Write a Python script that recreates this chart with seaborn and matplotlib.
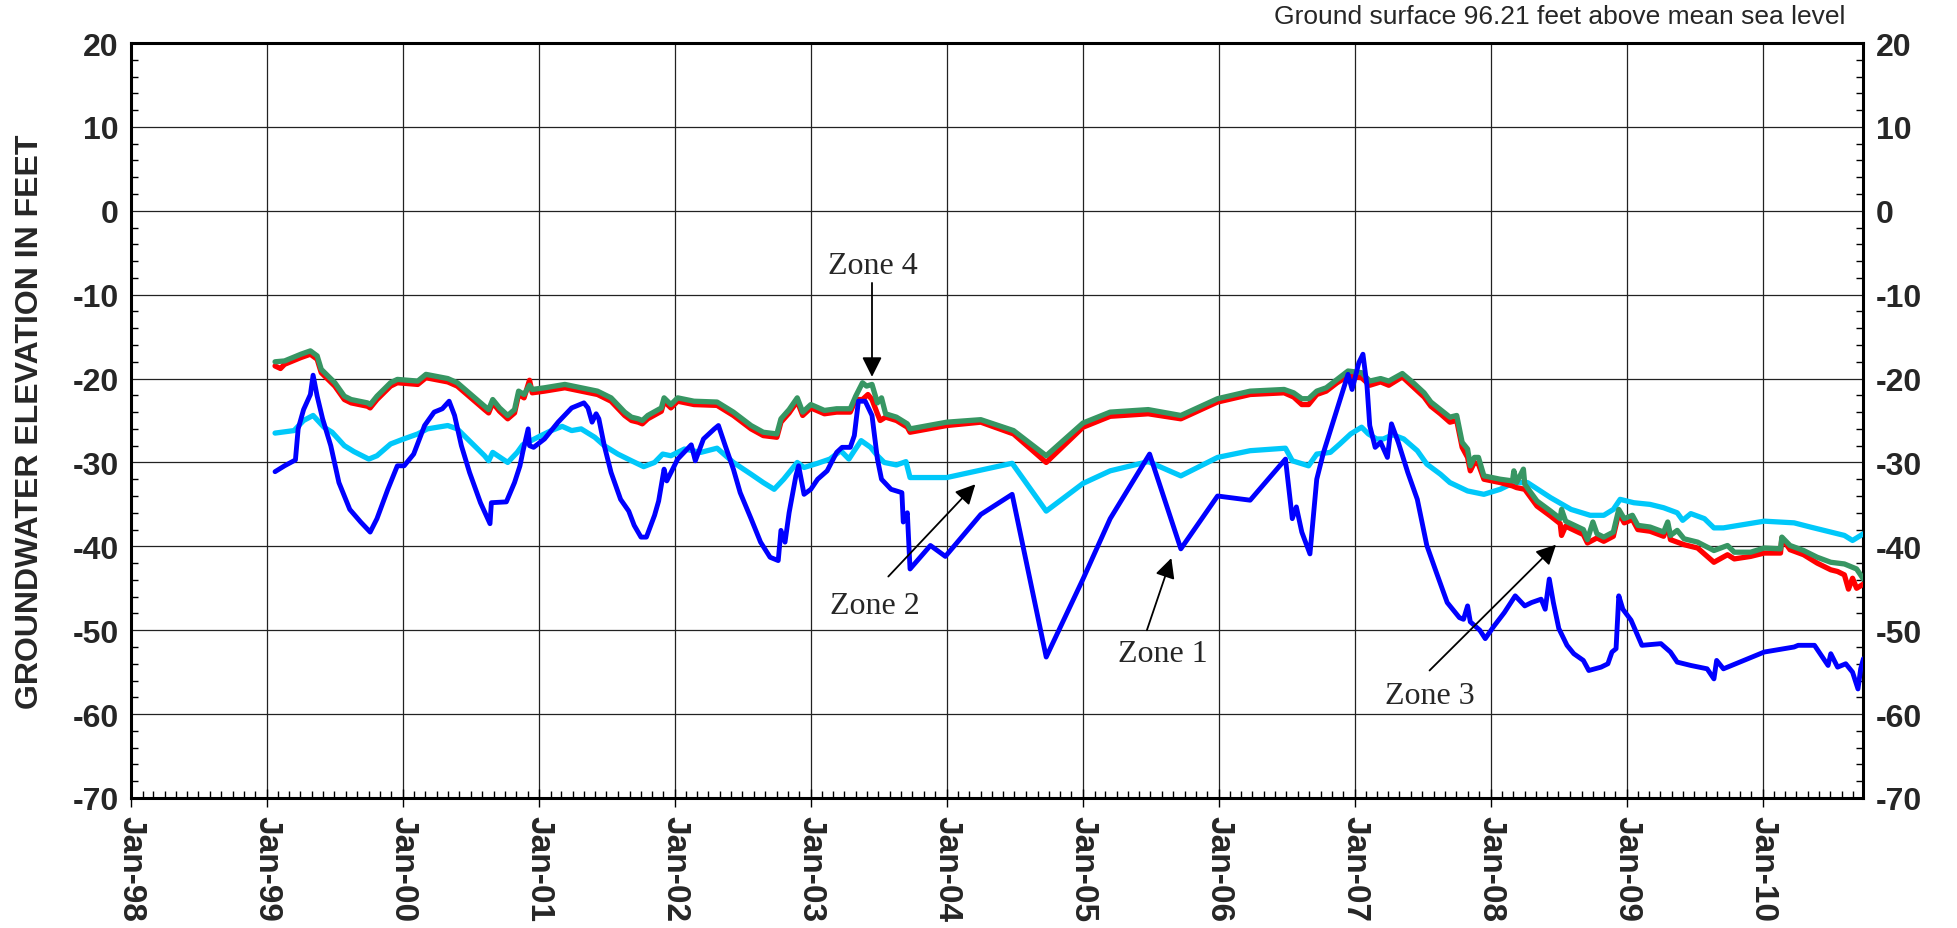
import numpy as np
import pandas as pd
import matplotlib
matplotlib.use("Agg")
import matplotlib.pyplot as plt
import matplotlib.dates as mdates
from matplotlib.ticker import MultipleLocator
import seaborn as sns

# ---------------- data (decimal year, elevation ft) ----------------
zone1_t = [1999.06, 1999.13, 1999.21, 1999.23, 1999.27, 1999.32, 1999.34, 1999.37, 1999.41, 1999.47,
           1999.53, 1999.61, 1999.69, 1999.76, 1999.81, 1999.89, 1999.96, 2000.01, 2000.08, 2000.16,
           2000.23, 2000.29, 2000.34, 2000.38, 2000.43, 2000.49, 2000.57, 2000.64, 2000.65, 2000.76,
           2000.82, 2000.86, 2000.88, 2000.92, 2000.93, 2000.96, 2001.04, 2001.14, 2001.24, 2001.33,
           2001.36, 2001.39, 2001.42, 2001.44, 2001.48, 2001.53, 2001.60, 2001.66, 2001.70, 2001.75,
           2001.79, 2001.85, 2001.88, 2001.92, 2001.94, 2002.02, 2002.12, 2002.15, 2002.21, 2002.29,
           2002.32, 2002.37, 2002.43, 2002.48, 2002.56, 2002.63, 2002.70, 2002.76, 2002.78, 2002.81,
           2002.84, 2002.89, 2002.91, 2002.95, 2003.00, 2003.05, 2003.12, 2003.19, 2003.23, 2003.29,
           2003.32, 2003.35, 2003.40, 2003.45, 2003.49, 2003.52, 2003.59, 2003.67, 2003.68, 2003.71,
           2003.73, 2003.88, 2003.99, 2004.25, 2004.48, 2004.73, 2005.00, 2005.20, 2005.49, 2005.72,
           2005.99, 2006.23, 2006.49, 2006.54, 2006.57, 2006.61, 2006.67, 2006.72, 2006.77, 2006.84,
           2006.92, 2006.95, 2006.98, 2007.03, 2007.06, 2007.09, 2007.11, 2007.15, 2007.19, 2007.24,
           2007.27, 2007.32, 2007.39, 2007.46, 2007.53, 2007.60, 2007.68, 2007.74, 2007.77, 2007.80,
           2007.83, 2007.85, 2007.92, 2007.96, 2008.02, 2008.10, 2008.18, 2008.25, 2008.30, 2008.37,
           2008.40, 2008.43, 2008.46, 2008.50, 2008.56, 2008.61, 2008.68, 2008.72, 2008.81, 2008.86,
           2008.89, 2008.92, 2008.94, 2008.97, 2009.03, 2009.11, 2009.25, 2009.32, 2009.37, 2009.47,
           2009.59, 2009.64, 2009.66, 2009.71, 2010.01, 2010.23, 2010.26, 2010.38, 2010.43, 2010.48,
           2010.50, 2010.55, 2010.61, 2010.66, 2010.70, 2010.72, 2010.74]
zone1_v = [-31.1, -30.4, -29.7, -26.0, -23.7, -21.9, -19.6, -22.1, -24.8, -28.0,
           -32.4, -35.6, -37.1, -38.3, -36.7, -33.2, -30.4, -30.4, -29.0, -25.6,
           -24.0, -23.6, -22.7, -24.4, -28.0, -31.2, -34.8, -37.3, -34.8, -34.7,
           -32.4, -30.4, -28.8, -26.0, -28.0, -28.2, -27.2, -25.2, -23.5, -22.9,
           -23.5, -25.2, -24.2, -24.8, -28.0, -31.2, -34.4, -35.8, -37.5, -38.9,
           -38.9, -36.3, -34.6, -30.8, -32.2, -29.6, -27.9, -29.8, -27.2, -26.0,
           -25.6, -28.0, -30.8, -33.6, -36.7, -39.5, -41.3, -41.7, -38.1, -39.5,
           -36.0, -31.6, -30.4, -33.8, -33.2, -32.0, -31.0, -28.8, -28.2, -28.2,
           -26.8, -22.7, -22.7, -24.4, -29.6, -32.0, -33.2, -33.6, -37.1, -36.0,
           -42.7, -39.9, -41.2, -36.2, -33.8, -53.2, -43.9, -36.7, -29.0, -40.3,
           -34.0, -34.5, -29.6, -36.7, -35.3, -38.3, -40.9, -32.0, -28.8, -25.2,
           -21.1, -19.5, -21.3, -18.1, -17.1, -20.9, -25.6, -28.2, -27.6, -29.4,
           -25.4, -27.6, -31.2, -34.4, -39.9, -43.1, -46.7, -47.9, -48.5, -48.7,
           -47.1, -49.0, -50.0, -51.0, -49.6, -47.9, -45.9, -47.1, -46.7, -46.3,
           -47.5, -43.9, -46.7, -49.8, -51.8, -52.8, -53.6, -54.8, -54.4, -54.0,
           -52.6, -52.2, -45.9, -47.5, -48.8, -51.8, -51.6, -52.6, -53.8, -54.2,
           -54.6, -55.8, -53.6, -54.6, -52.6, -52.0, -51.8, -51.8, -53.0, -54.2,
           -52.8, -54.4, -54.0, -55.0, -57.0, -54.6, -53.4]

zone2_t = [1999.06, 1999.20, 1999.27, 1999.34, 1999.42, 1999.48, 1999.57, 1999.64, 1999.75, 1999.81,
           1999.91, 1999.99, 2000.11, 2000.18, 2000.33, 2000.40, 2000.50, 2000.60, 2000.63, 2000.66,
           2000.77, 2000.84, 2000.88, 2000.99, 2001.09, 2001.17, 2001.24, 2001.31, 2001.41, 2001.48,
           2001.58, 2001.68, 2001.77, 2001.85, 2001.91, 2001.97, 2002.07, 2002.19, 2002.31, 2002.43,
           2002.56, 2002.65, 2002.73, 2002.80, 2002.90, 2002.95, 2003.05, 2003.14, 2003.22, 2003.28,
           2003.32, 2003.37, 2003.44, 2003.49, 2003.54, 2003.63, 2003.70, 2003.73, 2004.00, 2004.48,
           2004.73, 2005.00, 2005.20, 2005.48, 2005.72, 2005.99, 2006.23, 2006.49, 2006.54, 2006.66,
           2006.72, 2006.82, 2006.89, 2006.97, 2007.05, 2007.10, 2007.16, 2007.21, 2007.28, 2007.36,
           2007.46, 2007.53, 2007.63, 2007.70, 2007.83, 2007.95, 2008.07, 2008.17, 2008.27, 2008.44,
           2008.59, 2008.73, 2008.83, 2008.90, 2008.95, 2009.05, 2009.17, 2009.27, 2009.37, 2009.41,
           2009.47, 2009.57, 2009.64, 2009.71, 2010.01, 2010.23, 2010.35, 2010.50, 2010.60, 2010.66,
           2010.74]
zone2_v = [-26.5, -26.2, -25.0, -24.4, -25.8, -26.4, -28.0, -28.7, -29.6, -29.2,
           -27.8, -27.3, -26.6, -26.0, -25.6, -26.0, -27.6, -29.2, -29.8, -28.8,
           -30.0, -28.8, -27.9, -27.0, -26.2, -25.7, -26.2, -26.0, -27.0, -28.0,
           -29.0, -29.8, -30.5, -30.0, -29.0, -29.2, -28.4, -28.8, -28.3, -30.0,
           -31.4, -32.4, -33.2, -32.0, -30.0, -30.6, -30.1, -29.6, -28.6, -29.6,
           -28.6, -27.4, -28.2, -29.2, -30.0, -30.3, -29.9, -31.8, -31.8, -30.1,
           -35.8, -32.5, -31.0, -29.9, -31.6, -29.4, -28.6, -28.3, -29.8, -30.4,
           -29.0, -28.8, -27.8, -26.6, -25.8, -26.6, -27.2, -27.2, -26.7, -27.2,
           -28.6, -30.2, -31.4, -32.4, -33.4, -33.8, -33.2, -32.4, -32.4, -34.2,
           -35.6, -36.3, -36.3, -35.6, -34.4, -34.8, -35.0, -35.4, -36.0, -36.9,
           -36.1, -36.7, -37.8, -37.8, -37.0, -37.2, -37.7, -38.3, -38.7, -39.3,
           -38.5]

zone3_t = [1999.06, 1999.10, 1999.13, 1999.25, 1999.32, 1999.37, 1999.40, 1999.50, 1999.57, 1999.62,
           1999.74, 1999.76, 1999.81, 1999.91, 1999.96, 2000.11, 2000.17, 2000.33, 2000.40, 2000.50,
           2000.60, 2000.63, 2000.66, 2000.71, 2000.77, 2000.82, 2000.85, 2000.89, 2000.93, 2000.95,
           2001.04, 2001.19, 2001.31, 2001.43, 2001.53, 2001.63, 2001.68, 2001.73, 2001.76, 2001.80,
           2001.90, 2001.92, 2001.97, 2002.02, 2002.14, 2002.31, 2002.43, 2002.56, 2002.65, 2002.75,
           2002.78, 2002.84, 2002.90, 2002.94, 2003.00, 2003.10, 2003.19, 2003.29, 2003.33, 2003.38,
           2003.42, 2003.45, 2003.49, 2003.51, 2003.55, 2003.63, 2003.71, 2003.73, 2004.00, 2004.25,
           2004.49, 2004.73, 2005.00, 2005.20, 2005.48, 2005.72, 2005.99, 2006.23, 2006.48, 2006.55,
           2006.61, 2006.66, 2006.72, 2006.79, 2006.87, 2006.95, 2007.05, 2007.11, 2007.19, 2007.25,
           2007.35, 2007.43, 2007.51, 2007.56, 2007.63, 2007.70, 2007.75, 2007.79, 2007.83, 2007.85,
           2007.88, 2007.91, 2007.95, 2008.07, 2008.16, 2008.19, 2008.25, 2008.34, 2008.44, 2008.51,
           2008.52, 2008.55, 2008.68, 2008.71, 2008.78, 2008.83, 2008.90, 2008.94, 2008.98, 2009.04,
           2009.08, 2009.17, 2009.27, 2009.30, 2009.32, 2009.42, 2009.52, 2009.64, 2009.74, 2009.79,
           2009.91, 2010.01, 2010.13, 2010.14, 2010.20, 2010.30, 2010.40, 2010.50, 2010.55, 2010.60,
           2010.63, 2010.66, 2010.69, 2010.74]
zone3_v = [-18.5, -18.8, -18.3, -17.5, -17.1, -17.7, -19.3, -20.9, -22.5, -22.9,
           -23.3, -23.5, -22.5, -20.9, -20.5, -20.7, -19.9, -20.4, -20.9, -22.3,
           -23.7, -24.1, -22.9, -23.9, -24.8, -24.1, -21.9, -22.3, -20.2, -21.7,
           -21.5, -21.1, -21.5, -21.9, -22.7, -24.4, -25.0, -25.2, -25.4, -24.8,
           -23.9, -22.7, -23.5, -22.7, -23.1, -23.2, -24.4, -26.0, -26.8, -27.0,
           -25.2, -24.1, -22.7, -24.4, -23.5, -24.2, -24.0, -24.0, -22.5, -22.5,
           -21.9, -22.5, -24.2, -25.0, -24.6, -25.0, -25.8, -26.4, -25.6, -25.2,
           -26.6, -30.0, -25.8, -24.5, -24.2, -24.8, -22.8, -21.9, -21.7, -22.2,
           -23.1, -23.1, -21.9, -21.5, -20.5, -19.7, -19.9, -20.8, -20.4, -20.8,
           -19.8, -21.0, -22.2, -23.3, -24.2, -25.2, -25.0, -28.2, -29.4, -31.0,
           -30.0, -30.2, -32.0, -32.4, -32.8, -33.0, -33.2, -35.2, -36.4, -37.3,
           -38.7, -37.6, -38.6, -39.6, -39.0, -39.4, -38.8, -36.0, -37.2, -36.8,
           -38.0, -38.2, -38.8, -37.4, -39.2, -39.8, -40.2, -41.9, -41.0, -41.5,
           -41.2, -40.8, -40.8, -39.0, -40.4, -41.0, -42.0, -42.8, -43.0, -43.4,
           -45.1, -43.8, -45.0, -44.5]

zone4_t = [1999.06, 1999.13, 1999.25, 1999.32, 1999.37, 1999.40, 1999.50, 1999.57, 1999.62, 1999.74,
           1999.76, 1999.81, 1999.91, 1999.96, 2000.11, 2000.17, 2000.33, 2000.40, 2000.50, 2000.60,
           2000.63, 2000.66, 2000.71, 2000.77, 2000.82, 2000.85, 2000.89, 2000.93, 2000.95, 2001.04,
           2001.19, 2001.31, 2001.43, 2001.53, 2001.63, 2001.68, 2001.73, 2001.76, 2001.80, 2001.90,
           2001.92, 2001.97, 2002.02, 2002.14, 2002.31, 2002.43, 2002.56, 2002.65, 2002.75, 2002.78,
           2002.84, 2002.90, 2002.94, 2003.00, 2003.10, 2003.19, 2003.29, 2003.33, 2003.38, 2003.41,
           2003.45, 2003.49, 2003.52, 2003.55, 2003.63, 2003.71, 2003.73, 2004.00, 2004.25, 2004.49,
           2004.73, 2005.00, 2005.20, 2005.48, 2005.72, 2005.99, 2006.23, 2006.48, 2006.55, 2006.61,
           2006.66, 2006.72, 2006.79, 2006.87, 2006.95, 2007.05, 2007.11, 2007.19, 2007.25, 2007.35,
           2007.43, 2007.51, 2007.56, 2007.63, 2007.70, 2007.75, 2007.79, 2007.83, 2007.85, 2007.88,
           2007.91, 2007.95, 2008.07, 2008.16, 2008.17, 2008.19, 2008.24, 2008.25, 2008.34, 2008.44,
           2008.51, 2008.52, 2008.55, 2008.68, 2008.71, 2008.75, 2008.78, 2008.83, 2008.90, 2008.94,
           2008.98, 2009.04, 2009.08, 2009.17, 2009.27, 2009.30, 2009.32, 2009.37, 2009.42, 2009.52,
           2009.64, 2009.74, 2009.79, 2009.91, 2010.01, 2010.13, 2010.14, 2010.20, 2010.30, 2010.40,
           2010.50, 2010.60, 2010.69, 2010.74]
zone4_v = [-18.0, -17.9, -17.1, -16.7, -17.3, -18.9, -20.5, -22.1, -22.5, -22.9,
           -23.1, -22.1, -20.5, -20.1, -20.3, -19.5, -20.0, -20.5, -21.9, -23.3,
           -23.7, -22.5, -23.5, -24.4, -23.7, -21.5, -21.9, -20.8, -21.3, -21.1,
           -20.7, -21.1, -21.5, -22.3, -24.0, -24.6, -24.8, -25.0, -24.4, -23.5,
           -22.3, -23.1, -22.3, -22.7, -22.8, -24.0, -25.6, -26.4, -26.6, -24.8,
           -23.7, -22.3, -24.0, -23.1, -23.8, -23.6, -23.6, -22.1, -20.5, -20.9,
           -20.7, -22.9, -22.3, -24.2, -24.6, -25.4, -26.0, -25.2, -24.9, -26.2,
           -29.2, -25.3, -24.0, -23.7, -24.4, -22.4, -21.5, -21.3, -21.7, -22.4,
           -22.4, -21.5, -21.1, -20.1, -19.1, -19.3, -20.3, -20.0, -20.3, -19.4,
           -20.5, -21.7, -22.8, -23.7, -24.6, -24.4, -27.6, -28.4, -30.4, -29.4,
           -29.4, -31.6, -32.0, -32.2, -31.0, -32.4, -30.8, -32.6, -34.6, -35.8,
           -36.7, -35.6, -37.0, -38.0, -39.2, -37.1, -38.5, -38.9, -38.3, -35.6,
           -36.7, -36.3, -37.5, -37.7, -38.3, -37.1, -38.7, -38.1, -39.1, -39.5,
           -40.5, -39.9, -40.7, -40.7, -40.2, -40.3, -38.9, -39.9, -40.5, -41.3,
           -41.9, -42.1, -42.7, -43.9]

y_ticks = [20, 10, 0, -10, -20, -30, -40, -50, -60, -70]
header_text = "Ground surface 96.21 feet above mean sea level"
y_label = "GROUNDWATER ELEVATION IN FEET"


def dec2dt(years):
    out = []
    for y in years:
        yi = int(y)
        start = pd.Timestamp(yi, 1, 1)
        end = pd.Timestamp(yi + 1, 1, 1)
        out.append(start + (end - start) * (y - yi))
    return out


def frame(t, v):
    return pd.DataFrame({"date": dec2dt(t), "elev": v})


# ---------------- figure ----------------
sns.set_theme(style="white")
plt.rcParams['font.family'] = ['Liberation Sans', 'DejaVu Sans']
plt.rcParams['axes.unicode_minus'] = False

W, H = 1957, 929
fig = plt.figure(figsize=(W / 100, H / 100), dpi=100)
L, R, T, B = 131, 1863, 44, 799
ax = fig.add_axes([L / W, 1 - B / H, (R - L) / W, (B - T) / H])

series = [
    (frame(zone2_t, zone2_v), "#00C8FA", 3.8),
    (frame(zone3_t, zone3_v), "#FF0000", 3.8),
    (frame(zone4_t, zone4_v), "#379663", 3.8),
    (frame(zone1_t, zone1_v), "#0000FF", 3.5),
]
for df, col, lw in series:
    sns.lineplot(data=df, x="date", y="elev", color=col, lw=lw, ax=ax,
                 estimator=None, sort=False, legend=False, zorder=3)

ax.set_xlim(pd.Timestamp(1998, 1, 1), pd.Timestamp(2010, 9, 27))
ax.set_ylim(-70, 20)
ax.set_yticks(y_ticks)
ax.yaxis.set_minor_locator(MultipleLocator(2))
ax.xaxis.set_major_locator(mdates.YearLocator())
ax.xaxis.set_minor_locator(mdates.MonthLocator())
ax.xaxis.set_major_formatter(mdates.DateFormatter('%b-%y'))

ax.grid(True, which='major', color='#222222', lw=0.9)
ax.grid(False, which='minor')

for s in ax.spines.values():
    s.set_color('black')
    s.set_linewidth(2.2)
    s.set_visible(True)

ax.tick_params(axis='y', which='major', left=True, right=True, labelleft=True,
               labelright=True, direction='in', length=0, pad=9,
               labelsize=23)
ax.tick_params(axis='y', which='minor', left=True, right=True, direction='in',
               length=5, width=1.0, color='black')
ax.tick_params(axis='x', which='major', bottom=True, top=False, direction='inout',
               length=13, width=1.0, color='black', pad=6, labelsize=24,
               labelrotation=-90)
ax.tick_params(axis='x', which='minor', bottom=True, top=False, direction='in',
               length=5, width=1.0, color='black')
for lab in ax.get_xticklabels() + ax.get_yticklabels():
    lab.set_fontweight('bold')

ax.set_xlabel("")
ax.set_ylabel(y_label, fontsize=23, fontweight='bold')
ax.yaxis.set_label_coords(-0.0495, 0.5)

ax.text(0.9896, 1.036, header_text, transform=ax.transAxes, ha='right',
        va='center', fontsize=19)

# ---------------- annotations ----------------
serif = ['Liberation Serif', 'DejaVu Serif']
arrow_kw = dict(arrowstyle='-|>', color='black', lw=1.3, mutation_scale=30,
                shrinkA=0, shrinkB=0)
ann = [
    ("Zone 4", 2003.46, -6.5, 2003.45, -8.6, 2003.45, -19.8),
    ("Zone 2", 2003.47, -47.0, 2003.57, -43.6, 2004.21, -32.6),
    ("Zone 1", 2005.59, -52.8, 2005.47, -50.0, 2005.65, -41.4),
    ("Zone 3", 2007.55, -57.8, 2007.55, -54.8, 2008.48, -39.8),
]
for label, tx, ty, ax0, ay0, ax1, ay1 in ann:
    d_t, d_a0, d_a1 = dec2dt([tx, ax0, ax1])
    ax.annotate('', xy=(mdates.date2num(d_a1), ay1),
                xytext=(mdates.date2num(d_a0), ay0), arrowprops=arrow_kw, zorder=5)
    ax.text(mdates.date2num(d_t), ty, label, ha='center', va='center',
            fontsize=23, family=serif, zorder=5)

fig.savefig("out.png", dpi=100)
